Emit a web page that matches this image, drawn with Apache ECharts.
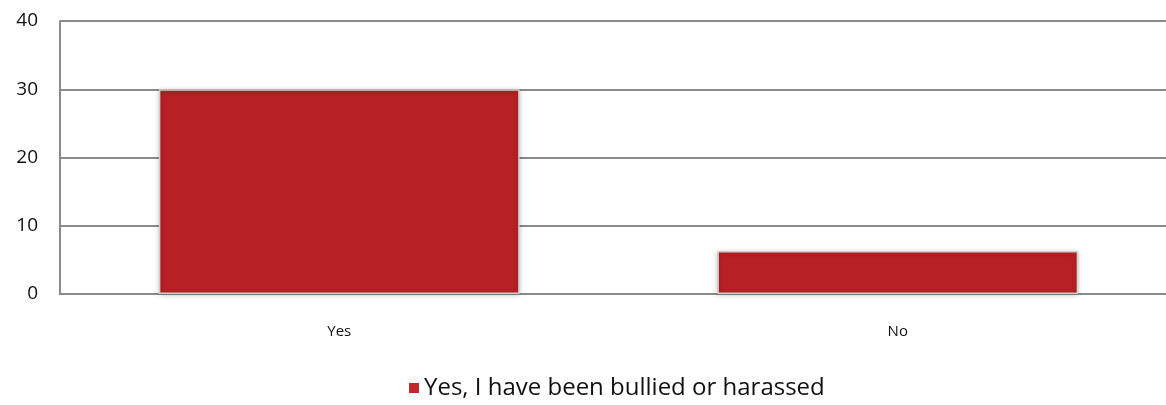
<!DOCTYPE html>
<html>
<head>
<meta charset="utf-8">
<script src="https://cdn.jsdelivr.net/npm/echarts@6/dist/echarts.min.js"></script>
<style>
  html, body { margin: 0; padding: 0; background: #fff; }
  #chart { width: 1166px; height: 405px; }
</style>
</head>
<body>
<div id="chart"></div>
<script>
// Survey responses
const categories = ['Yes', 'No'];
const seriesName = 'Yes, I have been bullied or harassed';
const values = [30, 6.3];
const yTicks = { min: 0, max: 40, interval: 10 };

const chart = echarts.init(document.getElementById('chart'), null, { renderer: 'canvas' });

chart.setOption({
  animation: false,
  backgroundColor: '#ffffff',
  textStyle: { fontFamily: 'Open Sans, DejaVu Sans, sans-serif' },
  // plot area runs slightly past the right edge of the canvas
  grid: { left: 60, width: 1117, top: 21, bottom: 111, containLabel: false, outerBoundsMode: 'none' },
  legend: {
    data: [seriesName],
    bottom: 0,
    left: 404,
    icon: 'rect',
    itemWidth: 10,
    itemHeight: 10,
    itemGap: 12,
    itemStyle: { borderWidth: 0, shadowBlur: 0, color: '#c0282d' },
    textStyle: { fontSize: 24, color: '#111', fontFamily: 'Open Sans, sans-serif' }
  },
  xAxis: {
    type: 'category',
    data: categories,
    axisLine: { show: true, lineStyle: { color: '#8a8a8a', width: 2 } },
    axisTick: { show: false },
    axisLabel: { fontSize: 15, color: '#111', margin: 30 }
  },
  yAxis: {
    type: 'value',
    min: yTicks.min,
    max: yTicks.max,
    interval: yTicks.interval,
    axisLine: { show: true, lineStyle: { color: '#8a8a8a', width: 2 } },
    axisTick: { show: false },
    axisLabel: { fontSize: 19, color: '#111', margin: 22 },
    splitLine: { show: true, lineStyle: { color: '#8a8a8a', width: 2 } }
  },
  series: [{
    name: seriesName,
    type: 'bar',
    data: values,
    barWidth: '64.6%',
    itemStyle: {
      color: '#b72025',
      borderColor: '#cfcfcf',
      borderWidth: 1.5,
      shadowColor: 'rgba(0,0,0,0.25)',
      shadowBlur: 5,
      shadowOffsetX: 0,
      shadowOffsetY: 1
    }
  }]
});
</script>
</body>
</html>
